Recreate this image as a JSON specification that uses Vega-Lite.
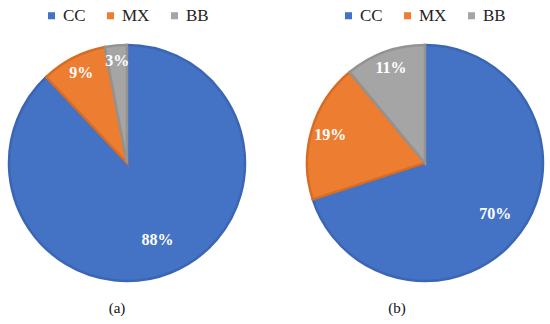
{
  "$schema": "https://vega.github.io/schema/vega-lite/v6.json",
  "background": "white",
  "padding": {"left": 4, "top": 7, "right": 0, "bottom": 0},
  "datasets": {
    "a": [
      {"cat": "CC", "share": 88, "ord": 1, "label": "88%"},
      {"cat": "MX", "share": 9, "ord": 2, "label": "9%"},
      {"cat": "BB", "share": 3, "ord": 3, "label": "3%"}
    ],
    "b": [
      {"cat": "CC", "share": 70, "ord": 1, "label": "70%"},
      {"cat": "MX", "share": 19, "ord": 2, "label": "19%"},
      {"cat": "BB", "share": 11, "ord": 3, "label": "11%"}
    ]
  },
  "config": {
    "view": {"stroke": null},
    "font": "Liberation Serif",
    "title": {"font": "Liberation Serif", "fontSize": 15, "fontWeight": "normal", "color": "#111"},
    "legend": {
      "direction": "horizontal",
      "title": null,
      "symbolType": "square",
      "symbolSize": 50,
      "symbolStrokeWidth": 0,
      "labelFont": "Liberation Serif",
      "labelFontSize": 17,
      "labelColor": "#222",
      "columnPadding": 16,
      "labelOffset": 3
    }
  },
  "spacing": 52,
  "hconcat": [
    {
      "width": 236,
      "height": 236,
      "data": {"name": "a"},
      "title": {"text": "(a)", "orient": "bottom", "offset": 15, "dx": -10},
      "encoding": {
        "theta": {"field": "share", "type": "quantitative", "stack": true},
        "order": {"field": "ord", "type": "quantitative"}
      },
      "layer": [
        {
          "mark": {"type": "arc", "outerRadius": 118, "strokeWidth": 2.5},
          "encoding": {
            "color": {"field": "cat", "type": "nominal", "scale": {"domain": ["CC", "MX", "BB"], "range": ["#4472C4", "#ED7D31", "#A5A5A5"]}, "legend": {"orient": "none", "legendX": 34, "legendY": -38, "labelFont": "Liberation Serif"}},
            "stroke": {"field": "cat", "type": "nominal", "scale": {"domain": ["CC", "MX", "BB"], "range": ["#3B66B4", "#D66D27", "#939393"]}, "legend": {"orient": "none", "legendX": 34, "legendY": -38, "labelFont": "Liberation Serif"}}
          }
        },
        {
          "mark": {"type": "text", "fontSize": 16, "fontWeight": "bold", "font": "Liberation Serif"},
          "encoding": {
            "text": {"field": "label", "type": "nominal"},
            "radius": {"field": "share", "type": "quantitative", "scale": {"type": "linear", "domain": [0, 100], "range": [103, 80], "zero": false}},
            "color": {"value": "white"}
          }
        }
      ]
    },
    {
      "width": 236,
      "height": 236,
      "data": {"name": "b"},
      "title": {"text": "(b)", "orient": "bottom", "offset": 15, "dx": -28},
      "encoding": {
        "theta": {"field": "share", "type": "quantitative", "stack": true},
        "order": {"field": "ord", "type": "quantitative"}
      },
      "layer": [
        {
          "mark": {"type": "arc", "outerRadius": 118, "strokeWidth": 2.5},
          "encoding": {
            "color": {"field": "cat", "type": "nominal", "scale": {"domain": ["CC", "MX", "BB"], "range": ["#4472C4", "#ED7D31", "#A5A5A5"]}, "legend": {"orient": "none", "legendX": 33, "legendY": -38, "labelFont": "Liberation Serif"}},
            "stroke": {"field": "cat", "type": "nominal", "scale": {"domain": ["CC", "MX", "BB"], "range": ["#3B66B4", "#D66D27", "#939393"]}, "legend": {"orient": "none", "legendX": 33, "legendY": -38, "labelFont": "Liberation Serif"}}
          }
        },
        {
          "mark": {"type": "text", "fontSize": 16, "fontWeight": "bold", "font": "Liberation Serif"},
          "encoding": {
            "text": {"field": "label", "type": "nominal"},
            "radius": {"field": "share", "type": "quantitative", "scale": {"type": "linear", "domain": [0, 100], "range": [103, 80], "zero": false}},
            "color": {"value": "white"}
          }
        }
      ]
    }
  ],
  "resolve": {"scale": {"color": "independent", "stroke": "independent"}, "legend": {"color": "independent", "stroke": "independent"}}
}
